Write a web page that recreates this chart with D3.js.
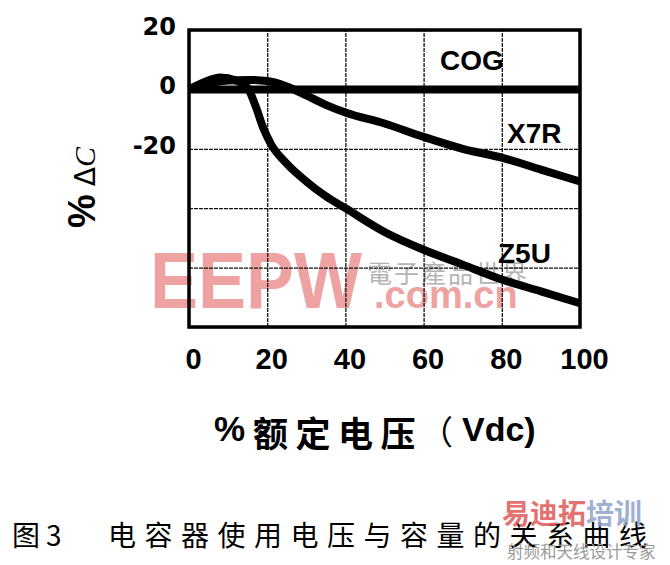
<!DOCTYPE html>
<html>
<head>
<meta charset="utf-8">
<script src="https://cdn.jsdelivr.net/npm/d3@7"></script>
<style>
  html, body { margin: 0; padding: 0; background: #fff; }
  svg { display: block; }
</style>
</head>
<body>
<svg id="chart" width="670" height="565"></svg>
<script>
// ---------- data ----------
const xTicks = [0, 20, 40, 60, 80, 100];
const yGridTicks = [20, 0, -20, -40, -60, -80];
const yLabelTicks = [20, 0, -20];

const cogV = [0, 100];
const cogC = [0, 0];

const x7rV = [0, 5, 10, 15, 20, 25, 30, 35, 40, 50, 60, 70, 80, 90, 100];
const x7rC = [0, 2, 3, 3.2, 2.8, 1, -2, -5.2, -7.8, -11.5, -16, -20, -23, -27, -31];

const z5uV = [0, 4, 8, 12, 15, 17, 19, 21, 25, 30, 35, 40, 50, 60, 70, 80, 90, 100];
const z5uC = [0, 2.5, 4, 3, 0.5, -5.5, -13, -18.5, -25, -31, -36, -40, -48, -54, -59, -64, -68, -72];

const seriesNames = ["COG", "X7R", "Z5U"];
const xTitle = ["%", "额定电压", "（", "Vdc)"];
const yTitle = ["%", "Δ", "C"];
const caption = ["图3", "电容器使用电压与容量的关系曲线"];

// ---------- layout ----------
const L = 189, R = 580, T = 30, B = 327;
const svg = d3.select("#chart");
const x = d3.scaleLinear().domain([0, 100]).range([L, R]);
const y = d3.scaleLinear().domain([-80, 20]).range([B, T]);

// ---------- watermark (behind) ----------
const wm = svg.append("g");
wm.append("text").attr("x", 150).attr("y", 308)
  .attr("textLength", 212).attr("lengthAdjust", "spacingAndGlyphs")
  .style("font-family", "Liberation Sans, Arial, sans-serif").style("font-weight", "bold")
  .style("font-size", "80px").style("fill", "#efa2a2").text("EEPW");
wm.append("text").attr("x", 374).attr("y", 308)
  .style("font-family", "Liberation Sans, Arial, sans-serif").style("font-weight", "bold")
  .style("font-size", "38px").style("fill", "#efa2a2").text(".com.cn");
wm.append("text").attr("x", 367).attr("y", 283)
  .style("font-family", "Noto Sans CJK TC, sans-serif")
  .style("font-size", "25px").style("letter-spacing", "2px").style("fill", "#b4b4b4").text("電子產品世界");

// ---------- grid via axes ----------
const gx = svg.append("g").attr("transform", `translate(0,${B})`)
  .call(d3.axisBottom(x).tickValues(xTicks).tickSize(-(B - T)).tickFormat(""));
gx.select(".domain").remove();
gx.selectAll("line").attr("stroke", "#111").attr("stroke-width", 1.3).attr("stroke-dasharray", "4,1");

const gy = svg.append("g").attr("transform", `translate(${L},0)`)
  .call(d3.axisLeft(y).tickValues(yGridTicks).tickSize(-(R - L)).tickFormat(""));
gy.select(".domain").remove();
gy.selectAll("line").attr("stroke", "#111").attr("stroke-width", 1.3).attr("stroke-dasharray", "4,1");

// ---------- curves ----------
const line = d3.line().x(d => x(d[0])).y(d => y(d[1])).curve(d3.curveMonotoneX);
const series = [
  d3.zip(cogV, cogC),
  d3.zip(x7rV, x7rC),
  d3.zip(z5uV, z5uC)
];
svg.append("g").selectAll("path").data(series).join("path")
  .attr("d", line).attr("fill", "none").attr("stroke", "#000")
  .attr("stroke-width", 8).attr("stroke-linejoin", "round");

// ---------- frame ----------
svg.append("rect").attr("x", L).attr("y", T).attr("width", R - L).attr("height", B - T)
  .attr("fill", "none").attr("stroke", "#000").attr("stroke-width", 3.5);

// ---------- tick labels via axes ----------
const ax = svg.append("g").attr("transform", `translate(4,${B})`)
  .call(d3.axisBottom(x).tickValues(xTicks).tickSize(0).tickPadding(0));
ax.select(".domain").remove();
ax.selectAll("text").attr("dy", null).attr("y", 42)
  .style("font-family", "Liberation Sans, Arial, sans-serif").style("font-weight", "bold")
  .style("font-size", "29px").attr("fill", "#000");

const ay = svg.append("g").attr("transform", `translate(${L},0)`)
  .call(d3.axisLeft(y).tickValues(yLabelTicks).tickSize(0).tickPadding(13).tickFormat(d => String(d)));
ay.select(".domain").remove();
ay.selectAll("text").attr("dy", null).attr("y", 4.5)
  .style("font-family", "DejaVu Sans, sans-serif").style("font-weight", "bold")
  .style("font-size", "24px").attr("fill", "#000");

// ---------- series labels ----------
const labelPos = [[440, 70], [507, 143], [498, 263]];
svg.append("g").selectAll("text").data(seriesNames).join("text")
  .attr("x", (d, i) => labelPos[i][0]).attr("y", (d, i) => labelPos[i][1])
  .style("font-family", "Liberation Sans, Arial, sans-serif").style("font-weight", "bold")
  .style("font-size", "28px").text(d => d);

// ---------- axis titles ----------
const xt = svg.append("text").attr("y", 441);
xt.append("tspan").attr("x", 214)
  .style("font-family", "Liberation Sans, Arial, sans-serif").style("font-weight", "bold")
  .style("font-size", "35px").text(xTitle[0]);
xt.append("tspan").attr("x", 253).attr("y", 447)
  .style("font-family", "Noto Sans CJK SC, sans-serif").style("font-weight", "bold")
  .style("font-size", "35px").style("letter-spacing", "7.5px").text(xTitle[1]);
xt.append("tspan").attr("x", 420).attr("y", 444)
  .style("font-family", "Noto Sans CJK SC, sans-serif")
  .style("font-size", "33px").text(xTitle[2]);
xt.append("tspan").attr("x", 462).attr("y", 441)
  .style("font-family", "Liberation Sans, Arial, sans-serif").style("font-weight", "bold")
  .style("font-size", "34px").text(xTitle[3]);

const yt = svg.append("text").attr("transform", "translate(95,228) rotate(-90)");
yt.append("tspan")
  .style("font-family", "Liberation Sans, Arial, sans-serif").style("font-weight", "bold")
  .style("font-size", "38px").text(yTitle[0]);
yt.append("tspan").attr("dx", 8)
  .style("font-family", "DejaVu Sans, sans-serif")
  .style("font-size", "28px").text(yTitle[1]);
yt.append("tspan")
  .style("font-family", "Liberation Serif, serif").style("font-style", "italic")
  .style("font-size", "30px").text(yTitle[2]);

// ---------- caption ----------
const cap = svg.append("text").attr("y", 546)
  .style("font-family", "Noto Sans CJK SC, sans-serif").style("font-weight", "400")
  .style("font-size", "28px").attr("fill", "#000");
cap.append("tspan").attr("x", 12).style("letter-spacing", "6px").text(caption[0]);
cap.append("tspan").attr("x", 108).style("letter-spacing", "8.5px").text(caption[1]);

// ---------- corner watermark ----------
const wm2 = svg.append("text").attr("y", 524)
  .style("font-family", "Noto Sans CJK SC, sans-serif").style("font-weight", "bold")
  .style("font-size", "28px").style("opacity", 0.85);
wm2.append("tspan").attr("x", 502).attr("fill", "#e05a5a").text("易迪拓");
wm2.append("tspan").attr("fill", "#8fa3c8").text("培训");
svg.append("text").attr("x", 507).attr("y", 558)
  .style("font-family", "Noto Sans CJK SC, sans-serif")
  .style("font-size", "16.5px").attr("fill", "#9a9a9a").text("射频和天线设计专家");
</script>
</body>
</html>
